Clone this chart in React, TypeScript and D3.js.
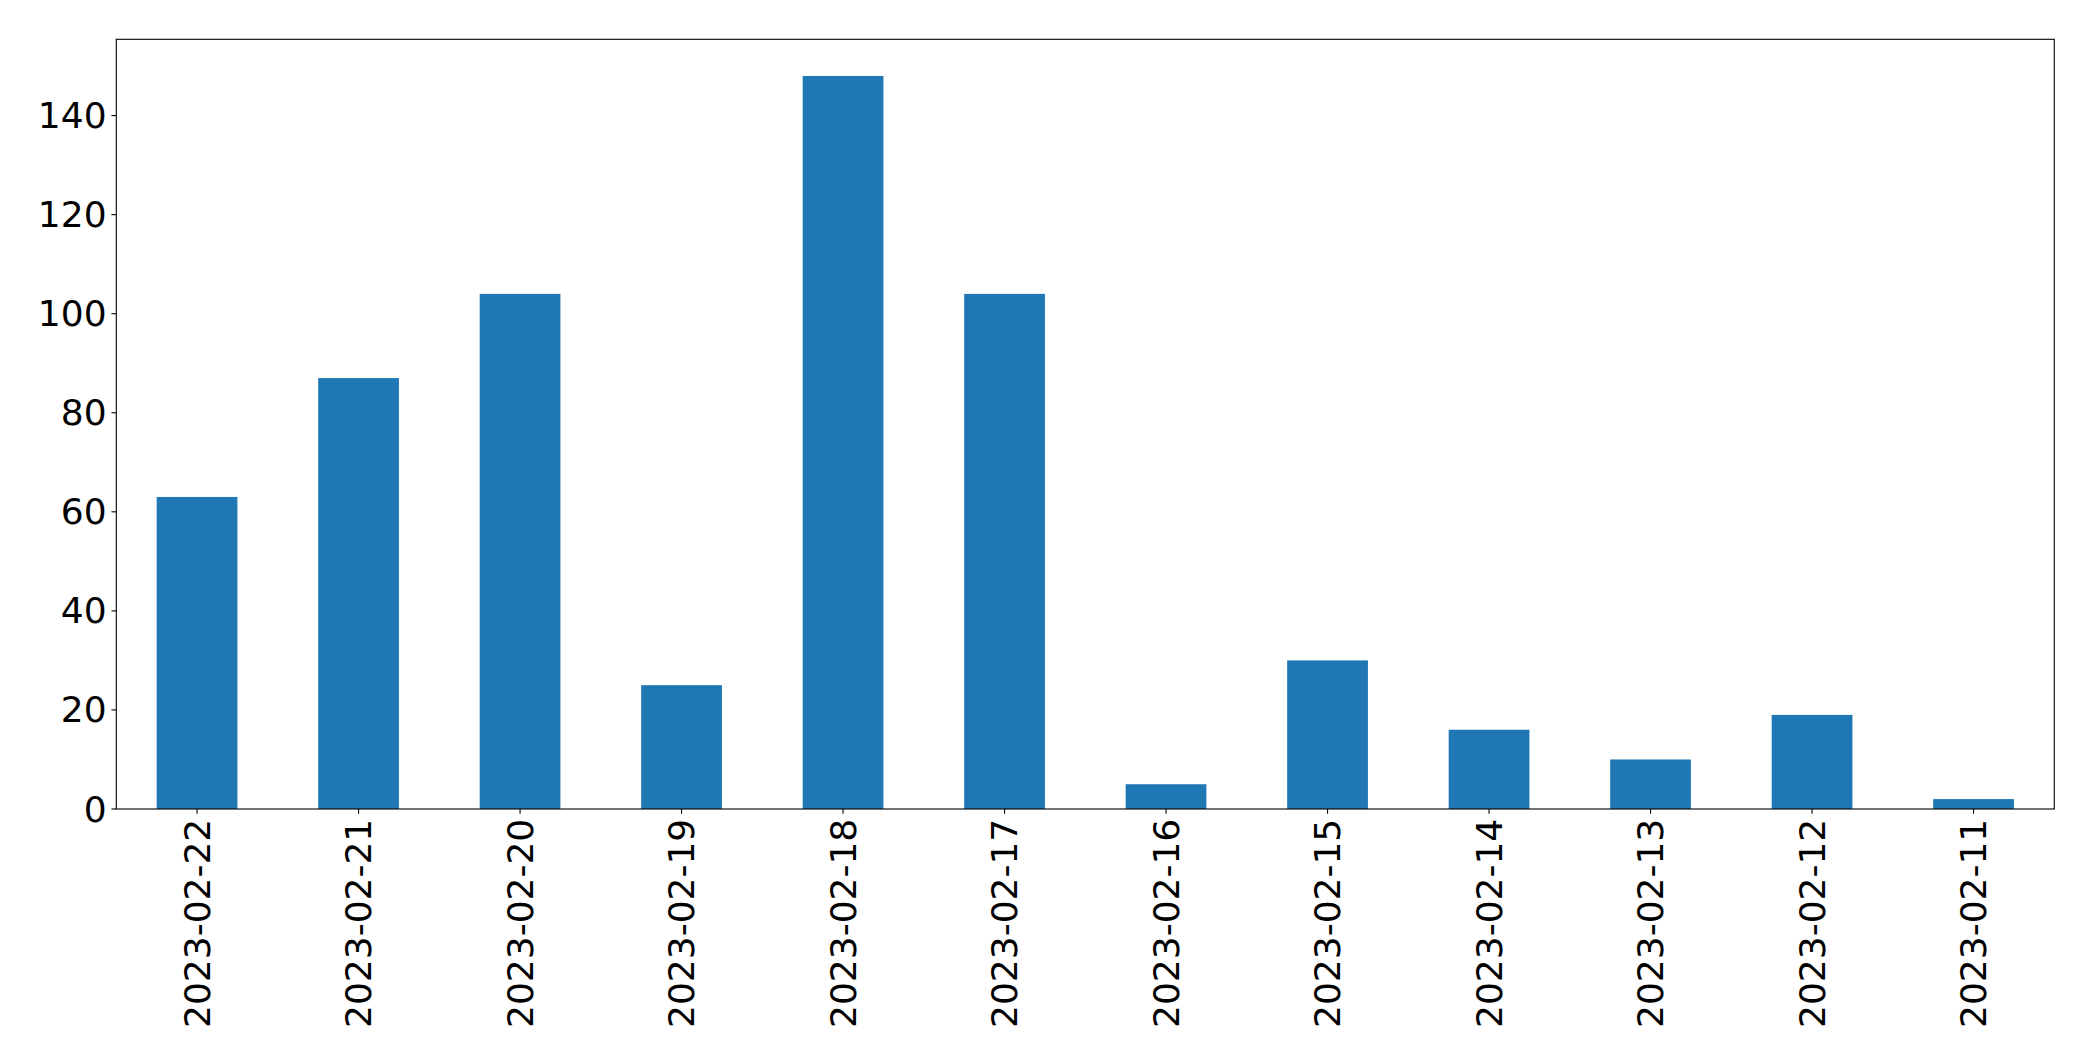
import React from "react";
import * as d3 from "d3";

const categories = [
  "2023-02-22", "2023-02-21", "2023-02-20", "2023-02-19", "2023-02-18", "2023-02-17",
  "2023-02-16", "2023-02-15", "2023-02-14", "2023-02-13", "2023-02-12", "2023-02-11",
];
const values = [63, 87, 104, 25, 148, 104, 5, 30, 16, 10, 19, 2];
const yTicks = [0, 20, 40, 60, 80, 100, 120, 140];

const W = 2093;
const H = 1061;
const L = 116.3;
const R = 2054.3;
const T = 39.3;
const B = 809;
const FS = 36;
const TICK = 4.86;
const PAD = 4.86;

export default function App() {
  const ymax = d3.max(values)! * 1.05;
  const y = d3.scaleLinear().domain([0, ymax]).range([B, T]);
  const x = d3.scaleLinear().domain([-0.5, categories.length - 0.5]).range([L, R]);
  const bw = x(0.25) - x(-0.25);
  const font = "'DejaVu Sans', sans-serif";
  return (
    <svg width={W} height={H} style={{ position: "absolute", left: 0, top: 0, background: "#fff" }}>
      <rect x={0} y={0} width={W} height={H} fill="#fff" />
      {values.map((v, i) => (
        <rect key={i} x={x(i) - bw / 2} y={y(v)} width={bw} height={B - y(v)} fill="#1f77b4" />
      ))}
      <rect x={L} y={T} width={R - L} height={B - T} fill="none" stroke="#000" strokeWidth={1.1} />
      {yTicks.map((t) => (
        <g key={t}>
          <line x1={L - TICK} x2={L} y1={y(t)} y2={y(t)} stroke="#000" strokeWidth={1.1} />
          <text x={L - TICK - PAD} y={y(t)} textAnchor="end" dominantBaseline="central"
            fontFamily={font} fontSize={FS} fill="#000">{t}</text>
        </g>
      ))}
      {categories.map((c, i) => (
        <g key={c}>
          <line x1={x(i)} x2={x(i)} y1={B} y2={B + TICK} stroke="#000" strokeWidth={1.1} />
          <text transform={`translate(${x(i)},${B + TICK + PAD}) rotate(-90)`} textAnchor="end"
            dominantBaseline="central" fontFamily={font} fontSize={FS} fill="#000">{c}</text>
        </g>
      ))}
    </svg>
  );
}
